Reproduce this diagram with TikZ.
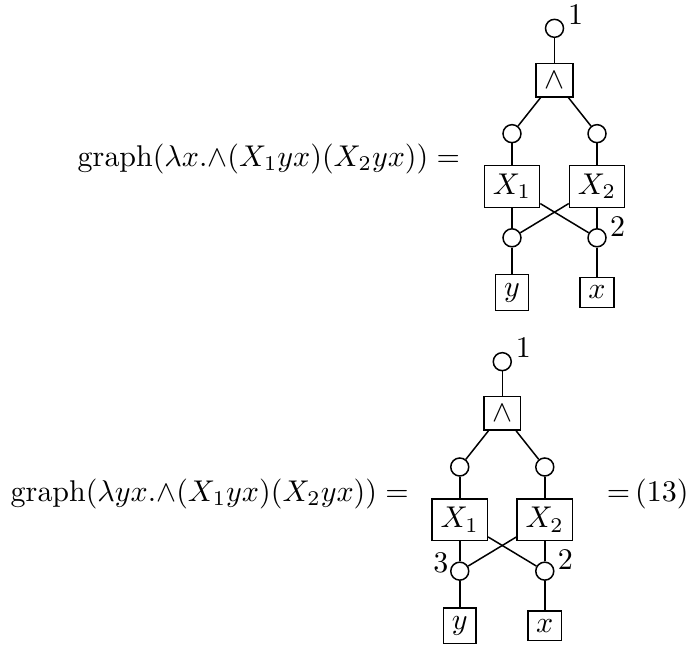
\documentclass[tikz,border=0pt]{standalone}
\tikzset{
  port/.style={draw, circle, inner sep=0pt, minimum size=6pt},
  term/.style={draw, rectangle, inner sep=2.8pt},
  portlabel/.style={inner sep=1pt},
  formula/.style={anchor=base west, inner sep=0pt},
}
% one lambda graph: #1 name prefix, #2 extra options of the left lower port
\newcommand{\lambdagraph}[2]{%
  \node[port, label={[portlabel, anchor=south west]0:$1$}] (#1-root) at (0,0) {};
  \node[term] (#1-and) at (0,-0.606) {$\wedge$};
  \node[port] (#1-l) at (-0.498,-1.234) {};
  \node[port] (#1-r) at (0.498,-1.234) {};
  \node[term] (#1-X1) at (-0.498,-1.853) {$X_1$};
  \node[term] (#1-X2) at (0.498,-1.853) {$X_2$};
  \node[port, #2] (#1-yp) at (-0.498,-2.454) {};
  \node[port, label={[portlabel, anchor=south west]-15:$2$}] (#1-xp) at (0.498,-2.454) {};
  \node[term] (#1-y) at (-0.498,-3.095) {$y$};
  \node[term] (#1-x) at (0.498,-3.095) {$x$};
  \draw (#1-root) -- (#1-and);
  \draw (#1-and) -- (#1-l);
  \draw (#1-and) -- (#1-r);
  \draw (#1-l) -- (#1-X1);
  \draw (#1-r) -- (#1-X2);
  \draw (#1-X1) -- (#1-yp);
  \draw (#1-X2) -- (#1-xp);
  \draw (#1-X1) -- (#1-xp);
  \draw (#1-X2) -- (#1-yp);
  \draw (#1-yp) -- (#1-y);
  \draw (#1-xp) -- (#1-x);
}
\begin{document}
\begin{tikzpicture}[line width=0.5pt]
\path[use as bounding box] (0,0) rectangle (8.107,-7.545);

\node[formula] (top-eq) at (0.902,-1.945) {$\mathrm{graph}(\lambda x.{\wedge}(X_1yx)(X_2yx)) =$};
\begin{scope}[shift={(6.496,-0.332)}]
  \lambdagraph{top}{}
\end{scope}

\node[formula] (bot-eq) at (0.117,-5.875) {$\mathrm{graph}(\lambda yx.{\wedge}(X_1yx)(X_2yx)) =$};
\begin{scope}[shift={(5.884,-4.237)}]
  \lambdagraph{bot}{label={[portlabel, inner sep=0.5pt, anchor=south east]200:$3$}}
\end{scope}
\node[formula] (bot-num) at (7.10,-5.875) {$=$\,(13)};
\end{tikzpicture}
\end{document}
